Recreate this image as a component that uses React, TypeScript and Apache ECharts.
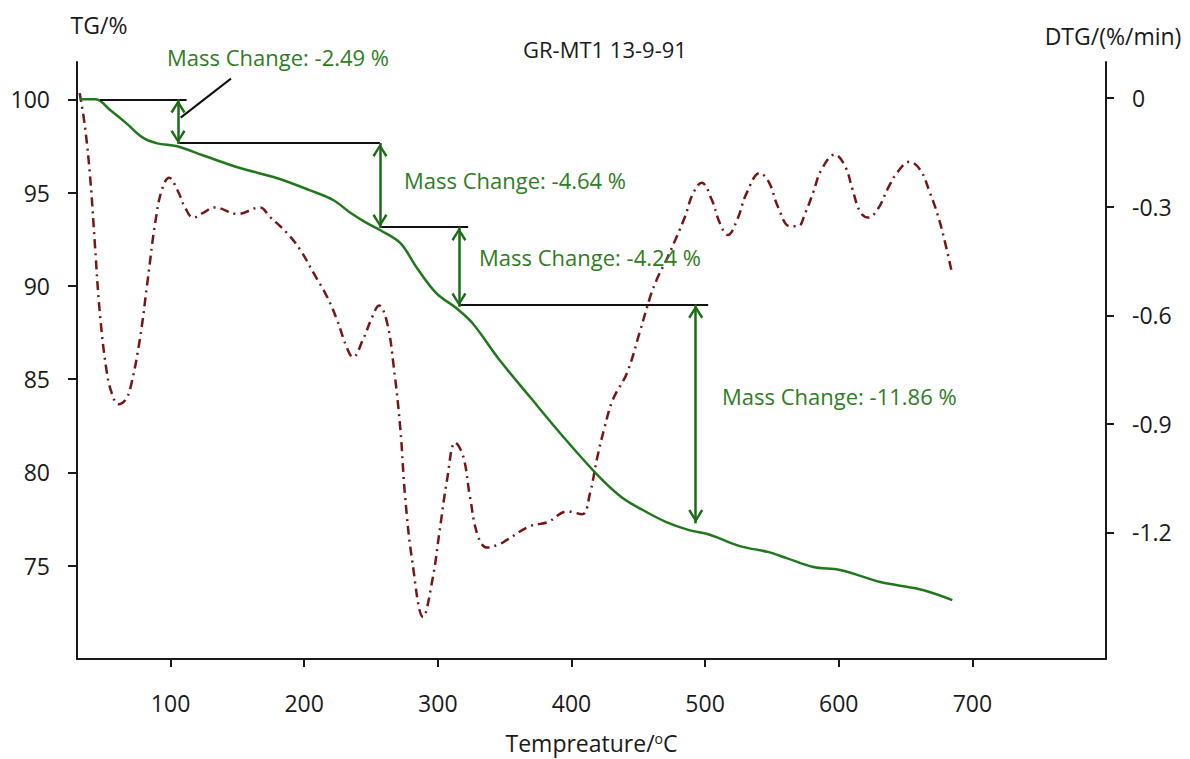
import React, { useEffect, useRef } from "react";
import * as echarts from "echarts";

// ---------- data ----------
const tgTemp = [32, 44, 55, 67, 79, 90, 105, 124, 150, 180, 204, 222, 234, 247, 257, 272, 284, 299, 314, 326, 346.5, 369, 394, 419, 437, 453, 471, 488, 504, 526, 547, 561, 581, 601, 631, 643, 663, 685];
const tgMass = [100, 100, 99.41, 98.71, 97.96, 97.64, 97.48, 97.0, 96.36, 95.77, 95.13, 94.59, 93.95, 93.36, 92.98, 92.29, 91.0, 89.6, 88.8, 88.0, 86.0, 84.04, 81.9, 79.9, 78.7, 78.0, 77.34, 76.91, 76.65, 76.05, 75.74, 75.41, 74.93, 74.77, 74.13, 73.97, 73.7, 73.16];

const dtgTemp = [32, 36, 40, 43.5, 47, 52, 56, 61, 66, 70, 77, 83, 88.5, 93.5, 99, 105, 111, 117, 124, 133, 150, 167, 174, 187, 197, 207, 217, 224.5, 232, 236.5, 244, 251, 256, 262, 267, 272, 275.5, 281, 289, 296, 301.5, 307, 313, 319, 324, 330, 337, 346, 352, 369, 382, 397, 408, 414, 419, 425, 431, 441.5, 451, 459, 464, 471, 479, 485, 491, 497.5, 505, 511, 517, 524, 531, 541, 548, 554.5, 563.5, 569.5, 575, 581, 587, 597, 605, 610, 616, 622, 629, 637, 643.5, 653, 661, 668, 674, 679, 685];
const dtgRate = [0.014, -0.08, -0.226, -0.41, -0.59, -0.75, -0.815, -0.846, -0.835, -0.8, -0.667, -0.5, -0.345, -0.253, -0.22, -0.253, -0.303, -0.33, -0.318, -0.302, -0.32, -0.302, -0.327, -0.372, -0.419, -0.483, -0.548, -0.612, -0.69, -0.716, -0.667, -0.604, -0.573, -0.62, -0.742, -0.916, -1.1, -1.283, -1.434, -1.33, -1.192, -1.053, -0.952, -0.99, -1.1, -1.21, -1.242, -1.233, -1.22, -1.183, -1.172, -1.142, -1.15, -1.09, -0.998, -0.907, -0.833, -0.76, -0.648, -0.548, -0.5, -0.447, -0.381, -0.327, -0.263, -0.234, -0.281, -0.345, -0.378, -0.336, -0.263, -0.207, -0.234, -0.3, -0.354, -0.354, -0.317, -0.259, -0.198, -0.156, -0.19, -0.248, -0.314, -0.33, -0.308, -0.248, -0.207, -0.176, -0.198, -0.259, -0.322, -0.39, -0.487];

const xTicks = [100, 200, 300, 400, 500, 600, 700];
const tgTicks = [75, 80, 85, 90, 95, 100];
const dtgTicks = [0, -0.3, -0.6, -0.9, -1.2];

// step lines (black) : [x1, y1, x2, y2] in data units (TG axis)
const stepLines = [
  [47.2, 100, 112, 100],
  [105.6, 97.66, 256.7, 97.66],
  [256.7, 93.16, 322.7, 93.16],
  [315.8, 89.0, 502.3, 89.0],
  [107.6, 99.02, 145.2, 101.11],
];
// double arrows (green)
const arrows = [
  [105.6, 100, 105.6, 97.6],
  [256.7, 97.66, 256.7, 93.1],
  [315.8, 93.16, 315.8, 88.88],
  [493, 89.0, 493, 77.27],
];
const massLabels = ["Mass Change: -2.49 %", "Mass Change: -4.64 %", "Mass Change: -4.24 %", "Mass Change: -11.86 %"];
const labelPos = [
  [167, 57],
  [404, 180],
  [479, 257],
  [722, 396],
];

const FONT = "'Open Sans', 'Liberation Sans', sans-serif";
const TXT = "#1a1a1a";
const GREEN_TXT = "#2f7d24";
const GREEN_LINE = "#21781c";
const GREEN_ARROW = "#1b6b16";
const DTG_COLOR = "#761616";

const chevron =
  "path://M5,0 L5.01,0 L5,0.01 Z M5,10 L10,18 L8.6,19 L5,12.8 L1.4,19 L0,18 Z";

export default function App() {
  const ref = useRef<HTMLDivElement>(null);
  useEffect(() => {
    if (!ref.current) return;
    const chart = echarts.init(ref.current, null, { renderer: "svg" });

    const tgData = tgTemp.map((t, i) => [t, tgMass[i]]);
    const dtgData = dtgTemp.map((t, i) => [t, dtgRate[i]]);

    const markData: any[] = [];
    stepLines.forEach((l) => {
      markData.push([
        { coord: [l[0], l[1]], symbol: "none", lineStyle: { color: "#111", width: 2, type: "solid" } },
        { coord: [l[2], l[3]], symbol: "none" },
      ]);
    });
    arrows.forEach((a) => {
      markData.push([
        { coord: [a[0], a[1]], symbol: chevron, symbolSize: [15, 28], lineStyle: { color: GREEN_ARROW, width: 2.5, type: "solid" }, itemStyle: { color: GREEN_ARROW } },
        { coord: [a[2], a[3]], symbol: chevron, symbolSize: [15, 28], itemStyle: { color: GREEN_ARROW } },
      ]);
    });

    const axisLabelBase = { color: TXT, fontFamily: FONT, fontSize: 23 };

    chart.setOption({
      animation: false,
      backgroundColor: "#fff",
      title: {
        text: "GR-MT1 13-9-91",
        left: 518,
        top: 33,
        textStyle: { color: TXT, fontFamily: FONT, fontSize: 22, fontWeight: "normal" },
      },
      grid: { left: 77, right: 84, top: 62, bottom: 100, containLabel: false },
      xAxis: {
        type: "value",
        min: 30,
        max: 800,
        name: "Tempreature/{sup|o}C",
        nameLocation: "middle",
        nameGap: 72,
        nameTextStyle: {
          color: TXT,
          fontFamily: FONT,
          fontSize: 23,
          rich: { sup: { fontSize: 14, fontFamily: FONT, color: TXT, verticalAlign: "top", lineHeight: 14 } },
        },
        axisLine: { show: true, onZero: false, lineStyle: { color: TXT, width: 2 } },
        axisTick: { show: true, length: 8, lineStyle: { color: TXT, width: 2 }, customValues: xTicks },
        axisLabel: { ...axisLabelBase, margin: 32, customValues: xTicks },
        splitLine: { show: false },
      },
      yAxis: [
        {
          type: "value",
          min: 70,
          max: 102,
          position: "left",
          name: "TG/%",
          nameLocation: "end",
          nameGap: 26,
          nameTextStyle: { color: TXT, fontFamily: FONT, fontSize: 23, padding: [0, 0, 0, 44] },
          axisLine: { show: true, onZero: false, lineStyle: { color: TXT, width: 2 } },
          axisTick: { show: true, length: 9, lineStyle: { color: TXT, width: 2 }, customValues: tgTicks },
          axisLabel: { ...axisLabelBase, margin: 27, customValues: tgTicks },
          splitLine: { show: false },
        },
        {
          type: "value",
          min: -1.55,
          max: 0.1,
          position: "right",
          name: "DTG/(%/min)",
          nameLocation: "end",
          nameGap: 15,
          nameTextStyle: { color: TXT, fontFamily: FONT, fontSize: 23, padding: [0, 0, 0, 14] },
          axisLine: { show: true, onZero: false, lineStyle: { color: TXT, width: 2 } },
          axisTick: { show: true, length: 8, lineStyle: { color: TXT, width: 2 }, customValues: dtgTicks },
          axisLabel: { ...axisLabelBase, margin: 26, customValues: dtgTicks },
          splitLine: { show: false },
        },
      ],
      series: [
        {
          name: "DTG",
          type: "line",
          yAxisIndex: 1,
          data: dtgData,
          smooth: 0.4,
          showSymbol: false,
          symbol: "none",
          lineStyle: { color: DTG_COLOR, width: 2.5, type: [9, 5, 2, 5] },
          silent: true,
          z: 2,
        },
        {
          name: "TG",
          type: "line",
          yAxisIndex: 0,
          data: tgData,
          smooth: 0.35,
          showSymbol: false,
          symbol: "none",
          lineStyle: { color: GREEN_LINE, width: 2.5 },
          silent: true,
          z: 3,
          markLine: {
            silent: true,
            animation: false,
            label: { show: false },
            emphasis: { disabled: true },
            data: markData,
          },
        },
      ],
      graphic: massLabels.map((t, i) => ({
        type: "text",
        x: labelPos[i][0],
        y: labelPos[i][1],
        silent: true,
        z: 10,
        style: {
          text: t,
          fill: GREEN_TXT,
          font: `22px ${FONT}`,
          textAlign: "left",
          textVerticalAlign: "middle",
        },
      })),
    });

    return () => chart.dispose();
  }, []);

  return (
    <div
      ref={ref}
      style={{ position: "fixed", left: 0, top: 0, width: 1190, height: 759, background: "#fff" }}
    />
  );
}
